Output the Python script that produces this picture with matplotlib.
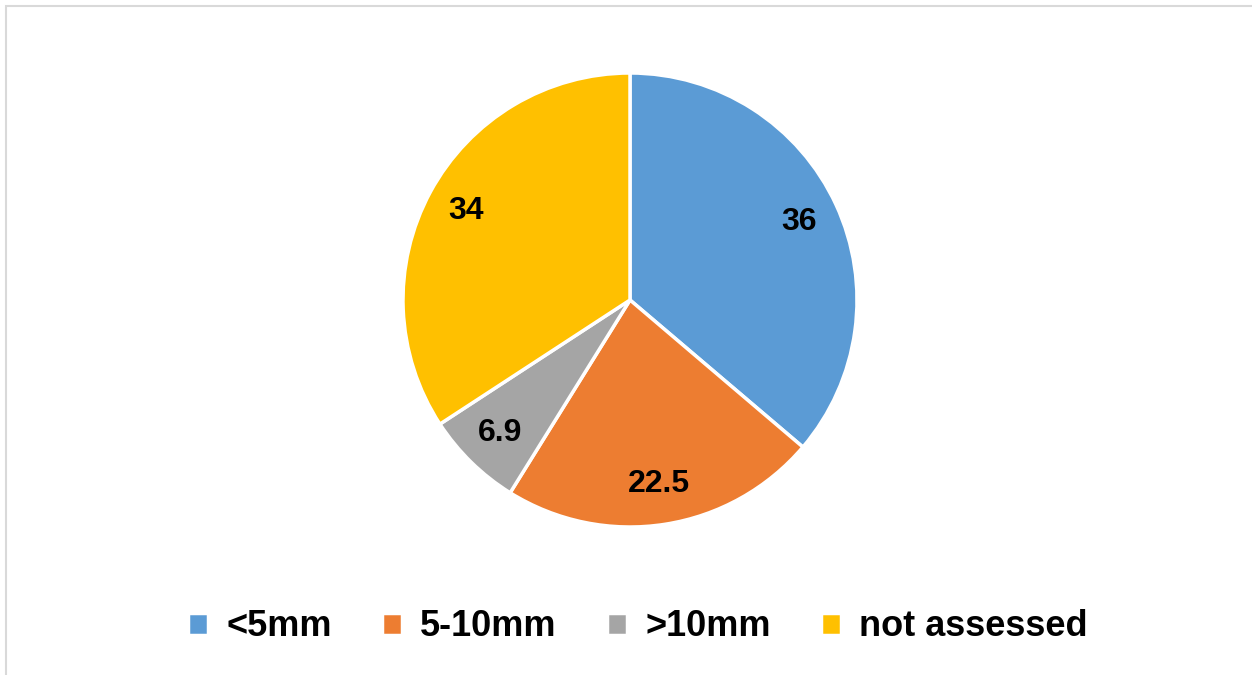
import matplotlib.pyplot as plt
import numpy as np
from matplotlib.patches import Rectangle

categorias = ["<5mm", "5-10mm", ">10mm", "not assessed"]
valores = [36, 22.5, 6.9, 34]
rotulos = ["36", "22.5", "6.9", "34"]
cores = ["#5B9BD5", "#ED7D31", "#A5A5A5", "#FFC000"]

plt.rcParams["font.family"] = ["Liberation Sans", "DejaVu Sans"]

fig = plt.figure(figsize=(12.52, 6.75), dpi=100)

# moldura cinza clara
fig.patches.append(Rectangle((6 / 1252, -0.01), 1.0, 1 - 6 / 675 + 0.01,
                             transform=fig.transFigure, fill=False,
                             edgecolor="#D9D9D9", linewidth=1.5))

ax = fig.add_axes([(630 - 227) / 1252, (675 - 527) / 675, 454 / 1252, 454 / 675])
fatias, _ = ax.pie(valores, colors=cores, startangle=90, counterclock=False,
                   wedgeprops={"edgecolor": "white", "linewidth": 2.5})

total = sum(valores)
angulo = 90.0
for v, r in zip(valores, rotulos):
    meio = np.deg2rad(angulo - v / total * 360 / 2)
    angulo -= v / total * 360
    ax.text(0.82 * np.cos(meio), 0.82 * np.sin(meio), r, ha="center", va="center",
            fontsize=23, fontweight="bold")
ax.set_xlim(-1, 1)
ax.set_ylim(-1, 1)
ax.set_aspect("equal")

fig.legend(fatias, categorias, loc="center", bbox_to_anchor=(638 / 1252, 1 - 627 / 675),
           ncol=4, frameon=False, prop={"size": 26, "weight": "bold"},
           handlelength=0.55, handleheight=0.55, handletextpad=0.5, columnspacing=1.4)

fig.savefig("out.png", dpi=100)
